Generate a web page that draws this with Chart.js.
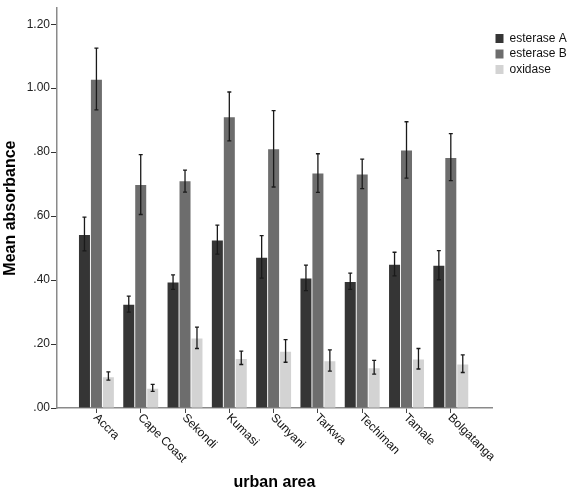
<!DOCTYPE html>
<html>
<head>
<meta charset="utf-8">
<script src="https://cdn.jsdelivr.net/npm/chart.js@4/dist/chart.umd.min.js"></script>
<style>
  html, body { margin: 0; padding: 0; background: #fff; }
  #wrap { width: 567px; height: 491px; position: relative; }
</style>
</head>
<body>
<div id="wrap"><canvas id="chart"></canvas></div>
<script>
// -------- Data ----------
const categories = ["Accra", "Cape Coast", "Sekondi", "Kumasi", "Sunyani", "Tarkwa", "Techiman", "Tamale", "Bolgatanga"];

const esteraseA     = [0.541, 0.323, 0.392, 0.524, 0.470, 0.405, 0.394, 0.448, 0.445];
const esteraseALow  = [0.491, 0.300, 0.371, 0.481, 0.406, 0.367, 0.371, 0.413, 0.401];
const esteraseAHigh = [0.597, 0.350, 0.416, 0.572, 0.539, 0.447, 0.422, 0.487, 0.492];

const esteraseB     = [1.026, 0.697, 0.709, 0.909, 0.809, 0.733, 0.730, 0.805, 0.782];
const esteraseBLow  = [0.932, 0.605, 0.675, 0.835, 0.691, 0.674, 0.686, 0.719, 0.711];
const esteraseBHigh = [1.125, 0.792, 0.744, 0.988, 0.930, 0.795, 0.778, 0.895, 0.858];

const oxidase     = [0.096, 0.060, 0.217, 0.153, 0.176, 0.146, 0.124, 0.152, 0.136];
const oxidaseLow  = [0.087, 0.052, 0.186, 0.136, 0.143, 0.115, 0.106, 0.122, 0.111];
const oxidaseHigh = [0.113, 0.074, 0.253, 0.178, 0.214, 0.182, 0.149, 0.186, 0.166];

const yTicks = [0, 0.2, 0.4, 0.6, 0.8, 1.0, 1.2];

const FONT = 'Arial, "Liberation Sans", sans-serif';

// bars sit on a linear index axis so the empty margin left/right of the groups can be kept
const toPoints = (arr) => arr.map((v, i) => ({ x: i, y: v }));
const errLow  = [esteraseALow, esteraseBLow, oxidaseLow];
const errHigh = [esteraseAHigh, esteraseBHigh, oxidaseHigh];

// ----- plugins -----
const errorBars = {
  id: "errorBars",
  afterDatasetsDraw(chart) {
    const { ctx } = chart;
    const ys = chart.scales.y;
    ctx.save();
    ctx.strokeStyle = "#1a1a1a";
    ctx.lineWidth = 1.3;
    chart.data.datasets.forEach((ds, d) => {
      chart.getDatasetMeta(d).data.forEach((bar, i) => {
        const x = bar.x;
        const lo = ys.getPixelForValue(errLow[d][i]);
        const hi = ys.getPixelForValue(errHigh[d][i]);
        ctx.beginPath();
        ctx.moveTo(x, lo); ctx.lineTo(x, hi);
        ctx.moveTo(x - 2, lo); ctx.lineTo(x + 2, lo);
        ctx.moveTo(x - 2, hi); ctx.lineTo(x + 2, hi);
        ctx.stroke();
      });
    });
    ctx.restore();
  }
};

// slanted category labels, reading downwards from the tick
const slantLabels = {
  id: "slantLabels",
  afterDraw(chart) {
    const { ctx } = chart;
    const xs = chart.scales.x;
    const y0 = chart.chartArea.bottom + 8;
    ctx.save();
    ctx.fillStyle = "#111";
    ctx.font = `12px ${FONT}`;
    ctx.textAlign = "left";
    ctx.textBaseline = "middle";
    categories.forEach((name, i) => {
      ctx.save();
      ctx.translate(xs.getPixelForValue(i) - 1, y0);
      ctx.rotate(Math.PI / 4);
      ctx.fillText(name, 0, 0);
      ctx.restore();
    });
    ctx.restore();
  }
};

// ----- chart -----
new Chart(document.getElementById("chart"), {
  type: "bar",
  data: {
    datasets: [
      { label: "esterase A", data: toPoints(esteraseA), backgroundColor: "#353535", borderWidth: 0 },
      { label: "esterase B", data: toPoints(esteraseB), backgroundColor: "#6d6d6d", borderWidth: 0 },
      { label: "oxidase",    data: toPoints(oxidase),   backgroundColor: "#d3d3d3", borderWidth: 0 }
    ]
  },
  options: {
    responsive: true,
    maintainAspectRatio: false,
    animation: false,
    categoryPercentage: 0.81,
    barPercentage: 0.92,
    layout: { padding: 0 },
    plugins: {
      tooltip: { enabled: false },
      legend: {
        position: "right",
        align: "start",
        maxWidth: 75,
        title: { display: true, text: "", font: { size: 12, lineHeight: 1 }, padding: { top: 17, bottom: 0 } },
        labels: {
          boxWidth: 8, boxHeight: 9, padding: 3.5,
          color: "#111",
          font: { family: FONT, size: 12 }
        }
      }
    },
    scales: {
      x: {
        type: "linear",
        offset: false,
        min: -0.89,
        max: 8.93,
        afterBuildTicks: (s) => { s.ticks = categories.map((c, i) => ({ value: i })); },
        ticks: { display: false },
        grid: { display: true, offset: false, drawOnChartArea: false, drawTicks: true, tickLength: 5, color: "#444" },
        border: { color: "#8a8a8a", width: 1.5 },
        title: {
          display: true, text: "urban area", color: "#000",
          font: { family: FONT, size: 16, weight: "bold", lineHeight: 1 },
          padding: { top: 62, bottom: 0 }
        }
      },
      y: {
        min: 0,
        max: 1.25,
        afterBuildTicks: (s) => { s.ticks = yTicks.map(v => ({ value: v })); },
        afterFit: (s) => { s.width = 57; },
        ticks: {
          color: "#222",
          padding: 1,
          font: { family: FONT, size: 12 },
          callback: (v) => Number(v).toFixed(2).replace(/^0/, "")
        },
        grid: { display: true, drawOnChartArea: false, drawTicks: true, tickLength: 6, color: "#333" },
        border: { color: "#8a8a8a", width: 1.5 },
        title: {
          display: true, text: "Mean absorbance", color: "#000",
          font: { family: FONT, size: 16, weight: "bold", lineHeight: 1 },
          padding: { top: 3, bottom: 0 }
        }
      }
    }
  },
  plugins: [errorBars, slantLabels]
});
</script>
</body>
</html>
